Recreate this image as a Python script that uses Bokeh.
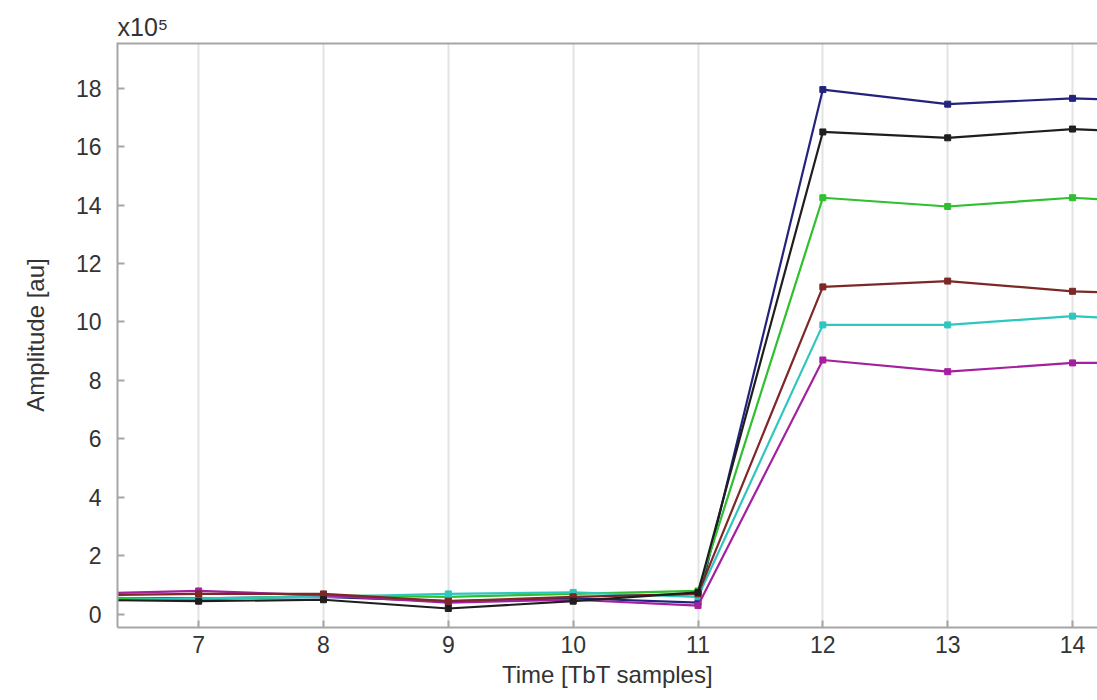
from bokeh.plotting import figure
from bokeh.models import Range1d, FixedTicker, Span, Title
from bokeh.embed import file_html
from bokeh.resources import INLINE

# Turn-by-turn samples and the amplitude of each channel (units of 1e5)
samples = [6, 7, 8, 9, 10, 11, 12, 13, 14, 15]
amp_navy = [0.55, 0.55, 0.60, 0.45, 0.55, 0.40, 17.95, 17.45, 17.65, 17.50]
amp_black = [0.50, 0.45, 0.50, 0.20, 0.45, 0.75, 16.50, 16.30, 16.60, 16.40]
amp_green = [0.60, 0.50, 0.65, 0.60, 0.70, 0.80, 14.25, 13.95, 14.25, 14.00]
amp_cyan = [0.45, 0.55, 0.60, 0.70, 0.75, 0.60, 9.90, 9.90, 10.20, 10.00]
amp_magenta = [0.70, 0.80, 0.65, 0.40, 0.50, 0.30, 8.70, 8.30, 8.60, 8.60]
amp_brown = [0.65, 0.70, 0.70, 0.45, 0.60, 0.70, 11.20, 11.40, 11.05, 10.90]

x_ticks = [7, 8, 9, 10, 11, 12, 13, 14]
y_ticks = [0, 2, 4, 6, 8, 10, 12, 14, 16, 18]

series = [
    (amp_navy, "#23237e"),
    (amp_green, "#2fbf2f"),
    (amp_cyan, "#2fc6c0"),
    (amp_magenta, "#a3209f"),
    (amp_brown, "#7d2727"),
    (amp_black, "#1e1e1e"),
]

FONT = "Liberation Sans"
AXIS_GRAY = "#a6a6a6"
TEXT_GRAY = "#333333"
Y_TOP = 19.56

p = figure(
    width=1097, height=700,
    x_range=Range1d(6.35, 14.2), y_range=Range1d(-0.45, Y_TOP),
    output_backend="svg", toolbar_location=None,
    min_border_left=117, min_border_right=0,
    min_border_top=42, min_border_bottom=73,
    background_fill_color="white", border_fill_color="white",
)
p.outline_line_color = None

for vals, col in series:
    p.line(samples, vals, line_color=col, line_width=2.2)
    p.scatter(samples, vals, marker="square", size=6,
              fill_color=col, line_color=col)

# grid: vertical lines only
p.xgrid.ticker = FixedTicker(ticks=x_ticks)
p.xgrid.grid_line_color = "#e3e3e3"
p.xgrid.grid_line_width = 2
p.ygrid.grid_line_color = None

for ax in (p.xaxis[0], p.yaxis[0]):
    ax.axis_line_color = AXIS_GRAY
    ax.axis_line_width = 2
    ax.major_tick_line_color = AXIS_GRAY
    ax.major_tick_line_width = 2
    ax.major_tick_in = 7
    ax.major_tick_out = 0
    ax.minor_tick_line_color = None
    ax.major_label_text_font = FONT
    ax.major_label_text_font_size = "23px"
    ax.major_label_text_color = TEXT_GRAY
    ax.axis_label_text_font = FONT
    ax.axis_label_text_font_size = "24px"
    ax.axis_label_text_font_style = "normal"
    ax.axis_label_text_color = TEXT_GRAY

p.xaxis[0].ticker = FixedTicker(ticks=x_ticks)
p.yaxis[0].ticker = FixedTicker(ticks=y_ticks)
p.xaxis[0].axis_label = "Time [TbT samples]"
p.yaxis[0].axis_label = "Amplitude [au]"
p.xaxis[0].major_label_standoff = 8
p.xaxis[0].axis_label_standoff = 5
p.yaxis[0].major_label_standoff = 16
p.yaxis[0].axis_label_standoff = 24

# top edge of the axes box
p.add_layout(Span(location=Y_TOP, dimension="width",
                  line_color=AXIS_GRAY, line_width=4))

# exponent marker for the y axis
p.add_layout(Title(text="x10\u2075", align="left", text_font=FONT,
                   text_font_size="25px", text_font_style="normal",
                   text_color=TEXT_GRAY, standoff=4), "above")

open("out.html", "w").write(file_html(p, INLINE))
